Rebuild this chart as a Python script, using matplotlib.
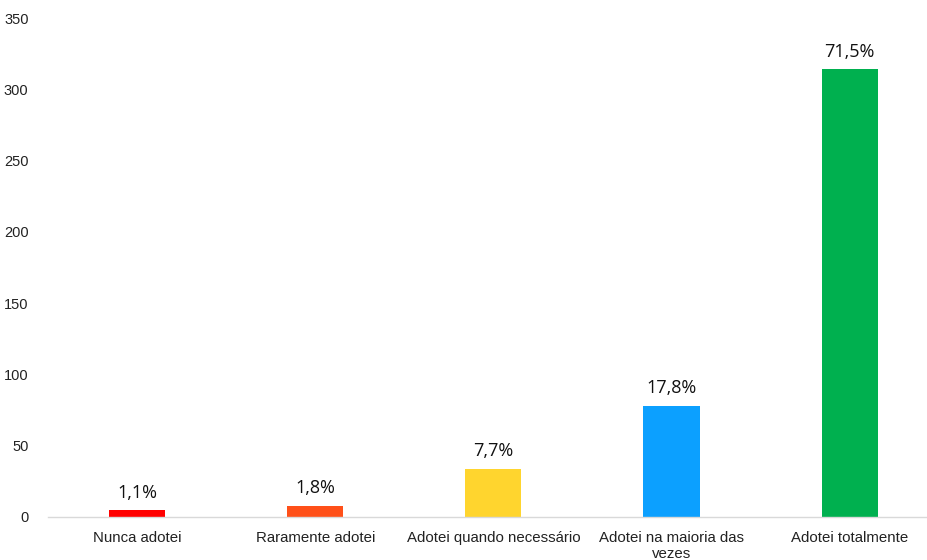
import matplotlib
matplotlib.use("Agg")
import matplotlib.pyplot as plt

categories = ["Nunca adotei", "Raramente adotei", "Adotei quando necessário",
              "Adotei na maioria das\nvezes", "Adotei totalmente"]
counts = [5, 8, 34, 78, 314]
pct_labels = ["1,1%", "1,8%", "7,7%", "17,8%", "71,5%"]
colors = ["#FF0000", "#FF5019", "#FFD52E", "#0CA0FF", "#00B04F"]
yticks = [0, 50, 100, 150, 200, 250, 300, 350]

fig = plt.figure(figsize=(9.28, 5.6), dpi=100)
ax = fig.add_axes([48 / 928, 43 / 560, 880 / 928, 499 / 560])

x = list(range(len(categories)))
bars = ax.bar(x, counts, width=0.315, color=colors, zorder=2)

for bar, lab in zip(bars, pct_labels):
    ax.annotate(lab, (bar.get_x() + bar.get_width() / 2, bar.get_height()),
                xytext=(0, 6), textcoords="offset points",
                ha="center", va="bottom", fontsize=13,
                family="Open Sans", color="#111111")

ax.set_xlim(-0.5, 4.44)
ax.set_ylim(0, 350)
ax.set_yticks(yticks)
ax.set_yticklabels([str(v) for v in yticks], family="Liberation Sans",
                   fontsize=10.5, color="#222222")
ax.set_xticks(x)
ax.set_xticklabels(categories, family="Liberation Sans", fontsize=10.8,
                   color="#222222", linespacing=1.15)
ax.tick_params(axis="both", length=0)
ax.tick_params(axis="y", pad=14)
ax.tick_params(axis="x", pad=10)

for side in ("top", "right", "left"):
    ax.spines[side].set_visible(False)
ax.spines["bottom"].set_color("#D9D9D9")
ax.spines["bottom"].set_linewidth(1.0)

fig.savefig("out.png", dpi=100)
